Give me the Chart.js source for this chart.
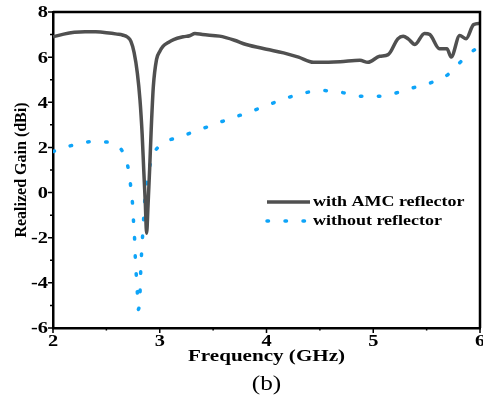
<!DOCTYPE html>
<html>
<head>
<meta charset="utf-8">
<script src="https://cdn.jsdelivr.net/npm/chart.js@4/dist/chart.umd.min.js"></script>
<style>
  html, body { margin: 0; padding: 0; background: #fff; }
  #wrap { width: 483px; height: 399px; position: relative; }
  .pre { position: absolute; left: -999px; top: 0; font-family: "Liberation Serif"; }
</style>
</head>
<body>
<div id="wrap"><canvas id="c" width="483" height="399"></canvas></div>
<span class="pre" style="font-weight:bold">Frequency (GHz) 0123456789</span>
<span class="pre">(b)</span>
<script>
// curva com refletor AMC
var freqAmc = [2.0, 2.1, 2.2, 2.3, 2.4, 2.5, 2.6, 2.65, 2.7, 2.73, 2.76, 2.79, 2.815, 2.835, 2.85, 2.865, 2.877,
  2.89, 2.905, 2.92, 2.94, 2.97, 3.0, 3.03, 3.08, 3.13, 3.22, 3.28, 3.33, 3.4, 3.56, 3.7, 3.81, 4.0, 4.16, 4.3,
  4.44, 4.5, 4.69, 4.875, 4.95, 5.06, 5.14, 5.23, 5.28, 5.33, 5.39, 5.48, 5.53, 5.62, 5.69, 5.73, 5.81, 5.87, 5.94, 6.0];
var gainAmc = [6.9, 7.02, 7.1, 7.13, 7.12, 7.08, 7.02, 6.98, 6.88, 6.7, 6.2, 5.3, 4.1, 2.6, 1.0, -0.5, -1.8,
  -0.6, 1.0, 2.8, 4.7, 5.9, 6.25, 6.48, 6.65, 6.78, 6.9, 6.95, 7.05, 7.0, 6.93, 6.75, 6.56, 6.35, 6.19, 6.0,
  5.77, 5.77, 5.8, 5.86, 5.77, 6.04, 6.11, 6.81, 6.93, 6.8, 6.56, 7.05, 7.0, 6.37, 6.37, 6.01, 6.96, 6.82, 7.44, 7.49];

// curva sem refletor
var freqNo = [2.0, 2.17, 2.35, 2.53, 2.6, 2.66, 2.71, 2.73, 2.746, 2.755, 2.765, 2.771, 2.78, 2.79, 2.8,
  2.815, 2.82, 2.827, 2.836, 2.846, 2.855, 2.87, 2.895, 2.93, 3.03, 3.19, 3.36, 3.53, 3.7, 3.86, 4.02, 4.19,
  4.36, 4.53, 4.7, 4.88, 5.06, 5.22, 5.4, 5.57, 5.7, 5.82, 5.96, 6.0];
var gainNo = [1.82, 2.08, 2.25, 2.23, 2.1, 1.73, 0.94, 0.18, -0.56, -1.34, -2.11, -2.88, -3.65, -4.42, -5.18,
  -4.47, -3.7, -2.94, -2.17, -1.42, -0.65, 0.13, 0.9, 1.58, 2.17, 2.47, 2.76, 3.06, 3.34, 3.6, 3.89, 4.19,
  4.42, 4.52, 4.44, 4.27, 4.27, 4.42, 4.68, 4.92, 5.23, 5.8, 6.37, 6.5];

var xTicks = [2, 3, 4, 5, 6];
var yTicks = [-6, -4, -2, 0, 2, 4, 6, 8];
var labels = ['with AMC reflector', 'without reflector'];

function pontos(xs, ys) {
  return xs.map(function(x, i) { return { x: x, y: ys[i] }; });
}

var serif = '"Liberation Serif", "Times New Roman", serif';

// texto esticado na horizontal (a figura original e mais larga)
function texto(ctx, s, x, y, font, esticar, align) {
  ctx.save();
  ctx.font = font;
  ctx.textAlign = align;
  ctx.textBaseline = 'middle';
  ctx.translate(x, y);
  ctx.scale(esticar, 1);
  ctx.fillText(s, 0, 0);
  ctx.restore();
}

// eixos extras: caixa, ticks, rotulos, legenda, titulo x e (b)
var extras = {
  id: 'extras',
  afterDraw: function(chart) {
    var ctx = chart.ctx;
    var a = chart.chartArea;
    var sx = chart.scales.x, sy = chart.scales.y;
    ctx.save();
    ctx.strokeStyle = '#000';
    ctx.lineWidth = 2.5;
    ctx.beginPath();
    ctx.moveTo(a.left, a.top);
    ctx.lineTo(a.right, a.top);
    ctx.lineTo(a.right, a.bottom);
    ctx.stroke();

    ctx.lineWidth = 1.5;
    ctx.beginPath();
    for (var v = sy.min; v <= sy.max; v += 1) {
      var py = sy.getPixelForValue(v);
      var len = (v % 2 === 0) ? 5 : 3;
      ctx.moveTo(a.left, py);
      ctx.lineTo(a.left - len, py);
    }
    for (var f = sx.min; f <= sx.max + 0.001; f += 0.5) {
      var px = sx.getPixelForValue(f);
      var l2 = (f % 1 === 0) ? 5 : 2.5;
      ctx.moveTo(px, a.bottom);
      ctx.lineTo(px, a.bottom + l2);
    }
    ctx.stroke();

    ctx.fillStyle = '#000';
    var tf = 'bold 17px ' + serif;
    sy.ticks.forEach(function(t) {
      texto(ctx, String(t.value), a.left - 5, sy.getPixelForValue(t.value) + 1, tf, 1.2, 'right');
    });
    sx.ticks.forEach(function(t) {
      texto(ctx, String(t.value), sx.getPixelForValue(t.value), a.bottom + 14, tf, 1.2, 'center');
    });

    // legenda
    var ds = chart.data.datasets;
    var lx = 267, ly = 202;
    ds.forEach(function(d, i) {
      var y = ly + i * 19;
      ctx.beginPath();
      ctx.strokeStyle = d.borderColor;
      ctx.lineWidth = d.borderWidth;
      ctx.lineCap = d.borderCapStyle || 'butt';
      ctx.setLineDash(d.borderDash || []);
      ctx.moveTo(lx, y);
      ctx.lineTo(lx + 43, y);
      ctx.stroke();
      ctx.setLineDash([]);
      ctx.fillStyle = '#000';
      texto(ctx, d.label, lx + 46, y, 'bold 15.5px ' + serif, 1.16, 'left');
    });

    ctx.fillStyle = '#000';
    texto(ctx, 'Frequency (GHz)', (a.left + a.right) / 2, 357, 'bold 17px ' + serif, 1.24, 'center');
    texto(ctx, '(b)', (a.left + a.right) / 2, 384, '22px ' + serif, 1.15, 'center');
    ctx.restore();
  }
};

function desenha() {
  var ctx = document.getElementById('c').getContext('2d');
  new Chart(ctx, {
    type: 'line',
    data: {
      datasets: [{
        label: labels[0],
        data: pontos(freqAmc, gainAmc),
        borderColor: '#505050',
        borderWidth: 3.5,
        pointRadius: 0,
        cubicInterpolationMode: 'monotone',
        fill: false
      }, {
        label: labels[1],
        data: pontos(freqNo, gainNo),
        borderColor: '#0ea4f8',
        borderWidth: 3.5,
        borderDash: [1.5, 16.5],
        borderCapStyle: 'round',
        pointRadius: 0,
        cubicInterpolationMode: 'monotone',
        fill: false
      }]
    },
    plugins: [extras],
    options: {
      responsive: false,
      animation: false,
      layout: { padding: { top: 12, right: 3, left: 0, bottom: 0 } },
      plugins: {
        legend: { display: false },
        tooltip: { enabled: false }
      },
      scales: {
        x: {
          type: 'linear',
          min: 2,
          max: 6,
          afterBuildTicks: function(s) {
            s.ticks = xTicks.map(function(v) { return { value: v }; });
          },
          afterFit: function(s) {
            s.height = 71;
            s.paddingLeft = 0;
            s.paddingRight = 0;
          },
          grid: { display: false },
          border: { display: true, color: '#000', width: 2.5 },
          ticks: { display: false }
        },
        y: {
          min: -6,
          max: 8,
          afterBuildTicks: function(s) {
            s.ticks = yTicks.map(function(v) { return { value: v }; });
          },
          afterFit: function(s) {
            s.width = 53;
            s.paddingTop = 0;
            s.paddingBottom = 0;
          },
          grid: { display: false },
          border: { display: true, color: '#000', width: 2.5 },
          title: {
            display: true,
            text: 'Realized Gain (dBi)',
            color: '#000',
            padding: { top: 12, bottom: 0 },
            font: { family: serif, size: 16, weight: 'bold' }
          },
          ticks: { display: false }
        }
      }
    }
  });
}

// espera as fontes locais antes de desenhar
if (document.fonts && document.fonts.load) {
  Promise.all([
    document.fonts.load('bold 17px "Liberation Serif"'),
    document.fonts.load('22px "Liberation Serif"')
  ]).then(desenha, desenha);
} else {
  desenha();
}
</script>
</body>
</html>
